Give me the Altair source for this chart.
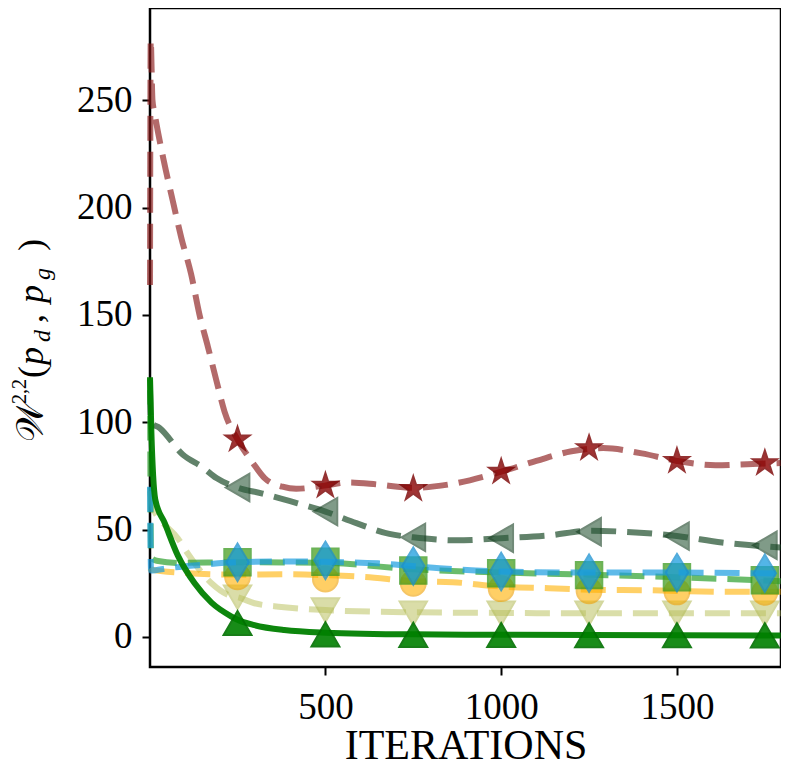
import altair as alt
import pandas as pd

# ---- data ----
MARK_X = [250, 500, 750, 1000, 1250, 1500, 1750]

RED_X = [1, 3, 8, 14, 40, 66, 90, 118, 142, 166, 189, 213, 250, 294, 327, 378, 417, 497, 568, 650, 750, 850, 1000, 1100, 1200, 1290, 1400, 1500, 1610, 1700, 1795]
RED_Y = [164, 278, 250, 244, 222, 203, 186, 169, 150, 135, 120, 105, 92, 81, 74, 70, 69, 70.5, 72, 71, 69.5, 71, 77, 82, 86.5, 88, 85.5, 82, 80, 80.5, 81]
RED_M = [92, 70.5, 69, 77, 88, 82, 81]

DG_X = [1, 3, 28, 94, 151, 190, 250, 321, 426, 500, 588, 682, 750, 872, 1000, 1136, 1250, 1350, 1500, 1628, 1795]
DG_Y = [115, 100, 97.4, 85, 79, 74, 69.6, 66.8, 62, 58.4, 53, 48, 46.4, 45, 46, 47.3, 49.5, 49, 47, 44, 41.7]
DG_M = [69.6, 58.4, 46.4, 46, 49, 47, 42.7]

GS_X = [1, 5, 10, 16, 43, 80, 128, 176, 233, 250, 298, 383, 500, 750, 1000, 1250, 1500, 1795]
GS_Y = [121, 95, 75, 64, 53, 38, 25, 16, 9.5, 8, 5.5, 3.2, 2, 1.2, 1, 0.9, 0.8, 0.7]
GS_M = [6.5, 1.2, 1, 0.9, 0.8, 0.8, 0.7]

OL_X = [1, 10, 34, 80, 108, 176, 233, 250, 298, 375, 500, 750, 1000, 1250, 1500, 1795]
OL_Y = [68, 60, 54, 46, 39, 25, 19, 18.5, 15.7, 14, 12.5, 11.5, 11.2, 11, 11, 11]
OL_M = [18.5, 12.5, 11, 11, 11, 11, 11]

OR_X = [1, 4, 80, 250, 378, 500, 610, 750, 862, 1000, 1136, 1250, 1400, 1656, 1795]
OR_Y = [32, 31.5, 30, 29, 29.2, 28.8, 28, 26, 25.5, 23.5, 22.7, 22, 21.8, 21, 21]
OR_M = [28, 27, 25, 22.5, 21.5, 21, 20.8]

GD_X = [1, 4, 20, 80, 250, 500, 750, 1000, 1250, 1500, 1795]
GD_Y = [120, 37, 35.5, 34.5, 34.8, 34.5, 31.5, 30, 29, 27.8, 26]
GD_M = [34.8, 35, 31, 29.7, 28.8, 27.8, 26.4]

BL_X = [1, 4, 50, 136, 250, 400, 500, 650, 825, 1000, 1250, 1500, 1795]
BL_Y = [70, 31, 32, 33.4, 34.8, 35.2, 35, 34.3, 32, 30.5, 30, 30, 29.5]
BL_M = [34.8, 35.7, 33, 30.5, 29.7, 30, 29.7]

X_TICKS = [500, 1000, 1500]
Y_TICKS = [0, 50, 100, 150, 200, 250]
X_TITLE = "ITERATIONS"
# y-axis title W^{2,2}(p_d, p_g), written piece by piece:
# (text, font size, italic, shift across the baseline, start along the axis)
Y_TITLE_PIECES = [
    ("𝒲", 38, False, 0, 434),
    ("2,2", 20, False, -17, 396),
    ("(", 36, False, 0, 370),
    ("p", 36, True, 0, 357),
    ("d", 24, True, 7, 334),
    (",", 36, False, 0, 315),
    ("p", 36, True, 0, 295),
    ("g", 24, True, 7, 272),
    (")", 36, False, 0, 243),
]
Y_TITLE_BASELINE = -107

FONT = "Liberation Serif"
XS = alt.Scale(domain=[1, 1796], nice=False, zero=False)
YS = alt.Scale(domain=[-14, 293], nice=False, zero=False)

X_AXIS = alt.Axis(
    values=X_TICKS, format="d", title=X_TITLE, grid=False, domain=False, orient="bottom",
    tickSize=8, tickWidth=2, tickColor="black",
    labelFont=FONT, labelFontSize=37, labelColor="black", labelPadding=14,
    titleFont=FONT, titleFontSize=42, titleFontWeight="normal", titleColor="black",
    titlePadding=0)
Y_AXIS = alt.Axis(
    values=Y_TICKS, format="d", title=None, grid=False, domain=False, orient="left",
    tickSize=8, tickWidth=2, tickColor="black",
    labelFont=FONT, labelFontSize=37, labelColor="black", labelPadding=10)

X_ENC = alt.X("x:Q", scale=XS, axis=X_AXIS)
Y_ENC = alt.Y("y:Q", scale=YS, axis=Y_AXIS)

THIN_DIAMOND = "M0,-1L0.6,0L0,1L-0.6,0Z"
STAR = ("M0,-1L0.225,-0.309L0.951,-0.309L0.363,0.118L0.588,0.809L0,0.382"
        "L-0.588,0.809L-0.363,0.118L-0.951,-0.309L-0.225,-0.309Z")


def layers(xs, ys, ms, color, opacity, dash, shape, size, mfill, mop, mstroke, width=6):
    ldf = pd.DataFrame({"x": xs, "y": ys})
    mdf = pd.DataFrame({"x": MARK_X, "y": ms})
    lk = dict(color=color, opacity=opacity, strokeWidth=width, interpolate="monotone")
    if dash:
        lk["strokeDash"] = [25, 11]
    line = alt.Chart(ldf).mark_line(**lk).encode(x=X_ENC, y=Y_ENC)
    pts = alt.Chart(mdf).mark_point(
        shape=shape, size=size, filled=True, fill=mfill, opacity=mop,
        stroke=mstroke, strokeWidth=2
    ).encode(x=X_ENC, y=Y_ENC)
    return [line, pts]


base = []
base += layers(RED_X, RED_Y, RED_M, "#8b1a1a", 0.65, True, STAR, 640, "#8b0000", 0.8, "#7a0000")
base += layers(DG_X, DG_Y, DG_M, "#1e4d2b", 0.7, True, "triangle-left", 750, "#2d5a3a", 0.6, "#143d1f")
base += layers(OL_X, OL_Y, OL_M, "#bcc262", 0.55, True, "triangle-down", 750, "#bcc262", 0.55, "#b0b850")
base += layers(OR_X, OR_Y, OR_M, "#ffb000", 0.6, True, "circle", 620, "#ffb000", 0.6, "#f0a000")
base += layers(GD_X, GD_Y, GD_M, "#3aa53a", 0.75, True, "square", 700, "#4ca020", 0.75, "#3a9a20")
base += layers(BL_X, BL_Y, BL_M, "#1a9de0", 0.7, True, THIN_DIAMOND, 1400, "#1a9de0", 0.75, "#1a90d0")
base += layers(GS_X, GS_Y, GS_M, "#008000", 0.95, False, "triangle-up", 780, "#008000", 0.9, "#007000")

one = pd.DataFrame({"k": [0]})
title_parts = []
for txt, fs, ital, shift, start in Y_TITLE_PIECES:
    mk = dict(text=txt, font=FONT, fontSize=fs, angle=270, align="left",
              baseline="alphabetic", color="black")
    if ital:
        mk["fontStyle"] = "italic"
    title_parts.append(
        alt.Chart(one).mark_text(**mk).encode(
            x=alt.value(Y_TITLE_BASELINE + shift), y=alt.value(start)))

chart = alt.layer(*base, *title_parts).properties(
    width=631, height=659,
    background="white",
    autosize=alt.AutoSizeParams(type="none"),
    padding={"left": 142, "top": 0, "right": 0, "bottom": 100},
).configure_view(stroke="black", strokeWidth=2.5)

chart.save("out.html", embed_options={"renderer": "svg", "actions": False})
